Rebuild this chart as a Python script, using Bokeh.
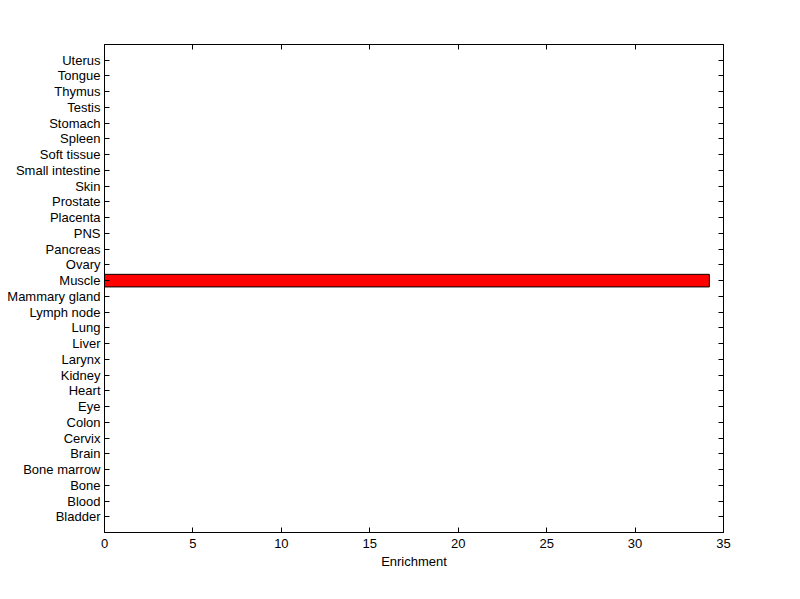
from bokeh.plotting import figure
from bokeh.models import Range1d, FixedTicker, LinearAxis
from bokeh.embed import file_html
from bokeh.resources import INLINE

tissues = ["Bladder", "Blood", "Bone", "Bone marrow", "Brain", "Cervix", "Colon", "Eye",
           "Heart", "Kidney", "Larynx", "Liver", "Lung", "Lymph node", "Mammary gland",
           "Muscle", "Ovary", "Pancreas", "PNS", "Placenta", "Prostate", "Skin",
           "Small intestine", "Soft tissue", "Spleen", "Stomach", "Testis", "Thymus",
           "Tongue", "Uterus"]
enrichment = [0, 0, 0, 0, 0, 0, 0, 0, 0, 0, 0, 0, 0, 0, 0,
              34.2, 0, 0, 0, 0, 0, 0, 0, 0, 0, 0, 0, 0, 0, 0]
x_ticks = [0, 5, 10, 15, 20, 25, 30, 35]

positions = list(range(1, len(tissues) + 1))
FONT = "Liberation Sans"

p = figure(width=790, height=590, frame_width=619, frame_height=488,
           min_border_left=104, min_border_right=67, min_border_top=44, min_border_bottom=58,
           x_range=Range1d(0, 35), y_range=Range1d(0, len(tissues) + 1),
           output_backend="svg", toolbar_location=None, x_axis_location=None,
           y_axis_location=None)
p.xgrid.visible = False
p.ygrid.visible = False
p.outline_line_color = "black"
p.outline_line_width = 1
p.background_fill_color = "white"
p.border_fill_color = "white"

nz = [(pos, v) for pos, v in zip(positions, enrichment) if v > 0]
p.hbar(y=[a for a, b in nz], right=[b for a, b in nz], left=0, height=0.8,
       fill_color="red", line_color="black", line_width=1)

labels = {pos: t for pos, t in zip(positions, tissues)}

def style(ax):
    ax.axis_line_color = "black"
    ax.major_tick_in = 5
    ax.major_tick_out = 0
    ax.minor_tick_line_color = None
    ax.major_tick_line_color = "black"
    ax.major_label_text_font = FONT
    ax.major_label_text_font_size = "13px"
    ax.major_label_text_color = "black"
    ax.axis_label_text_font = FONT
    ax.axis_label_text_font_size = "13px"
    ax.axis_label_text_font_style = "normal"
    ax.axis_label_text_color = "black"

left = LinearAxis(ticker=FixedTicker(ticks=positions), major_label_overrides=labels)
style(left)
left.major_label_standoff = 4
right = LinearAxis(ticker=FixedTicker(ticks=positions),
                   major_label_overrides={pos: "" for pos in positions})
style(right)
bottom = LinearAxis(ticker=FixedTicker(ticks=x_ticks), axis_label="Enrichment")
style(bottom)
bottom.major_label_standoff = 6
bottom.axis_label_standoff = 3
top = LinearAxis(ticker=FixedTicker(ticks=x_ticks),
                 major_label_overrides={t: "" for t in x_ticks})
style(top)

p.add_layout(left, "left")
p.add_layout(right, "right")
p.add_layout(bottom, "below")
p.add_layout(top, "above")

open("out.html", "w").write(file_html(p, INLINE))
